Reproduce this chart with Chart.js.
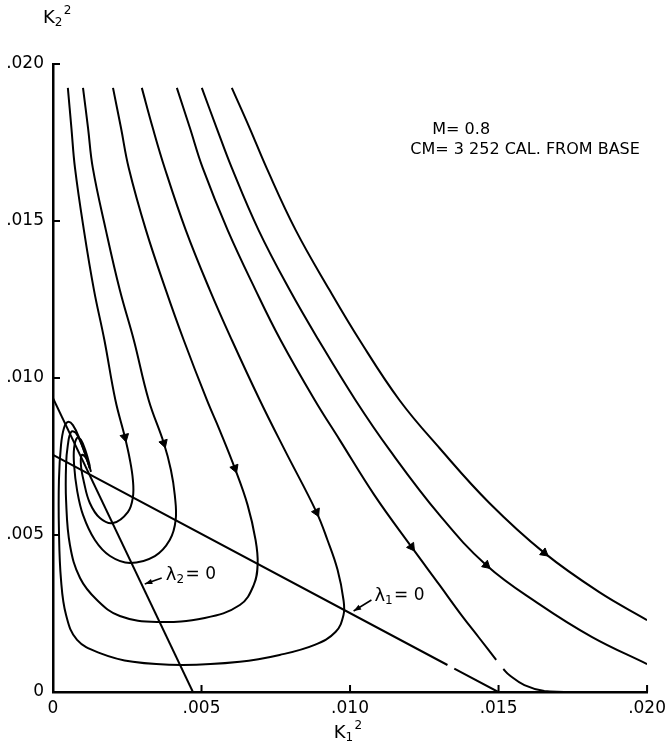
<!DOCTYPE html>
<html>
<head>
<meta charset="utf-8">
<script src="https://cdn.jsdelivr.net/npm/chart.js@4"></script>
<style>
  body { margin: 0; background: #fff; }
</style>
</head>
<body>
<canvas id="chart" width="672" height="750"></canvas>
<script>
// all values in thousandths (0.001) of K1^2 / K2^2
const curveAX = [6.02, 6.62, 7.19, 8.17, 9.31, 10.32, 11.66, 13.01, 14.69, 16.54, 18.39, 20.0];
const curveAY = [19.24, 17.96, 16.69, 14.71, 12.80, 11.21, 9.30, 7.77, 6.02, 4.43, 3.18, 2.29];

const curveBX = [5.01, 5.51, 6.02, 6.92, 7.97, 8.94, 10.18, 11.33, 13.01, 14.59, 16.37, 18.15, 20.0];
const curveBY = [19.24, 17.96, 16.69, 14.71, 12.80, 11.21, 9.30, 7.71, 5.64, 4.04, 2.80, 1.75, 0.89];

// curve C has a small break just above the axis
const curveCX = [4.17, 4.61, 5.04, 5.88, 6.82, 7.66, 8.81, 9.65, 10.82, 12.07, 13.01, 13.75, 14.35, 14.92, 15.04, 15.16, 15.36, 15.87, 16.54, 17.21];
const curveCY = [19.24, 17.96, 16.69, 14.71, 12.80, 11.21, 9.30, 8.03, 6.27, 4.62, 3.41, 2.45, 1.72, 1.02, null, 0.73, 0.54, 0.22, 0.03, 0];

const curveDX = [2.99, 3.36, 3.76, 4.47, 5.28, 6.02, 6.96, 7.80, 8.87, 9.24, 9.58, 9.78, 9.78, 9.51, 8.81, 7.63, 6.29, 4.37, 2.69, 1.58, 0.81, 0.44, 0.27, 0.20, 0.20, 0.27, 0.37, 0.50, 0.67, 0.91, 1.18, 1.28];
const curveDY = [19.24, 17.96, 16.69, 14.71, 12.80, 11.21, 9.30, 7.71, 5.73, 4.84, 3.89, 2.93, 2.45, 1.91, 1.50, 1.18, 0.96, 0.86, 0.96, 1.24, 1.66, 2.45, 3.57, 5.16, 6.75, 7.87, 8.41, 8.60, 8.50, 8.03, 7.32, 7.01];

const curveEX = [2.02, 2.29, 2.55, 3.13, 3.80, 4.40, 5.18, 5.61, 6.12, 6.55, 6.82, 6.89, 6.76, 6.29, 5.11, 3.50, 2.25, 1.48, 0.91, 0.57, 0.44, 0.44, 0.50, 0.61, 0.77, 1.01, 1.24];
const curveEY = [19.24, 17.96, 16.69, 14.71, 12.80, 11.21, 9.30, 8.34, 7.13, 5.96, 4.84, 4.08, 3.41, 2.77, 2.36, 2.23, 2.42, 2.93, 3.63, 4.68, 6.11, 7.23, 7.87, 8.28, 8.25, 7.77, 7.13];

const curveFX = [1.01, 1.18, 1.34, 1.78, 2.25, 2.72, 3.22, 3.73, 3.97, 4.10, 4.13, 3.93, 3.43, 2.59, 1.92, 1.41, 1.01, 0.81, 0.71, 0.71, 0.81, 0.94, 1.11, 1.24];
const curveFY = [19.24, 17.96, 16.69, 14.71, 12.80, 11.21, 9.30, 7.93, 7.07, 6.27, 5.48, 4.84, 4.33, 4.11, 4.33, 4.84, 5.64, 6.43, 7.23, 7.77, 8.09, 8.03, 7.64, 7.20];

const curveGX = [0.50, 0.62, 0.74, 1.04, 1.38, 1.73, 2.10, 2.42, 2.59, 2.69, 2.69, 2.52, 2.02, 1.58, 1.24, 1.04, 0.94, 0.97, 1.11, 1.24];
const curveGY = [19.24, 17.96, 16.69, 14.71, 12.80, 11.21, 9.30, 8.12, 7.39, 6.75, 6.21, 5.73, 5.38, 5.54, 6.02, 6.69, 7.23, 7.55, 7.45, 7.13];

// lambda = 0 lines (lambda1 has a break near the bottom)
const lambda2X = [0, 4.71];
const lambda2Y = [9.36, 0];
const lambda1X = [0, 13.28, 13.4, 13.51, 14.99];
const lambda1Y = [7.55, 0.86, null, 0.745, 0];

// flow arrows, one on each trajectory (A..G)
const arrowX = [16.54, 14.59, 12.07, 8.87, 6.12, 3.73, 2.42];
const arrowY = [4.43, 4.04, 4.62, 5.73, 7.13, 7.93, 8.12];

const xTicks = [0, 5, 10, 15, 20];
const yTicks = [0, 5, 10, 15, 20];

const curves = [
  {x: curveAX, y: curveAY}, {x: curveBX, y: curveBY}, {x: curveCX, y: curveCY},
  {x: curveDX, y: curveDY}, {x: curveEX, y: curveEY}, {x: curveFX, y: curveFY},
  {x: curveGX, y: curveGY}
];

const pts = (xs, ys) => xs.map((x, i) => ({x: x / 1000, y: ys[i] === null ? null : ys[i] / 1000}));
const fmt = v => Math.abs(v) < 1e-9 ? '0' : '.' + String(Math.round(v * 1000)).padStart(3, '0');

const FONT = '"DejaVu Sans", sans-serif';

const line = (xs, ys) => ({
  data: pts(xs, ys),
  showLine: true,
  borderColor: '#000',
  borderWidth: 2,
  pointRadius: 0,
  tension: 0.4,
  spanGaps: false
});

const datasets = curves.map(c => line(c.x, c.y));
datasets.push(Object.assign(line(lambda2X, lambda2Y), {tension: 0}));
datasets.push(Object.assign(line(lambda1X, lambda1Y), {tension: 0}));
datasets.push({
  data: pts(arrowX, arrowY),
  showLine: false,
  pointStyle: 'triangle',
  pointRadius: 5,
  backgroundColor: '#000',
  borderColor: '#000',
  borderWidth: 1,
  rotation: ctx => {
    const i = ctx.dataIndex;
    const c = curves[i];
    if (!c) return 180;
    let j = 0, best = Infinity;
    c.x.forEach((x, k) => {
      if (c.y[k] === null) return;
      const d = (x - arrowX[i]) ** 2 + (c.y[k] - arrowY[i]) ** 2;
      if (d < best) { best = d; j = k; }
    });
    const a = Math.max(j - 1, 0), b = Math.min(j + 1, c.x.length - 1);
    const sx = ctx.chart.scales.x, sy = ctx.chart.scales.y;
    const dx = sx.getPixelForValue(c.x[b] / 1000) - sx.getPixelForValue(c.x[a] / 1000);
    const dy = sy.getPixelForValue(c.y[b] / 1000) - sy.getPixelForValue(c.y[a] / 1000);
    return Math.atan2(dx, -dy) * 180 / Math.PI;
  }
});

// text notes, inward tick marks and the lambda pointer arrows
const annotate = {
  id: 'annotate',
  afterDraw(chart) {
    const {ctx, scales: {x, y}} = chart;
    const px = v => x.getPixelForValue(v / 1000);
    const py = v => y.getPixelForValue(v / 1000);
    ctx.save();
    ctx.fillStyle = '#000';
    ctx.strokeStyle = '#000';
    ctx.lineWidth = 2;

    ctx.beginPath();
    xTicks.forEach(t => {
      if (t === 0) return;
      ctx.moveTo(px(t), y.bottom);
      ctx.lineTo(px(t), y.bottom - 7);
    });
    yTicks.forEach(t => {
      if (t === 0) return;
      ctx.moveTo(x.left, py(t));
      ctx.lineTo(x.left + 7, py(t));
    });
    ctx.stroke();

    ctx.textBaseline = 'middle';
    ctx.textAlign = 'left';
    ctx.font = '16px ' + FONT;
    ctx.fillText('M= 0.8', px(12.77), py(17.90));
    ctx.fillText('CM= 3 252 CAL. FROM BASE', px(12.03), py(17.26));

    // K with subscript and superscript
    const kLabel = (sub, x0, y0) => {
      ctx.textAlign = 'left';
      ctx.font = '18px ' + FONT;
      ctx.fillText('K', x0, y0);
      const w = ctx.measureText('K').width;
      ctx.font = '12px ' + FONT;
      ctx.fillText(sub, x0 + w, y0 + 5);
      ctx.fillText('2', x0 + w + 9, y0 - 7);
    };
    kLabel('2', px(-0.34), py(21.46));
    kLabel('1', px(9.45), py(-1.31));

    // lambda labels with subscript
    const lamLabel = (sub, x0, y0) => {
      ctx.font = '18px ' + FONT;
      ctx.fillText('\u03bb', x0, y0);
      const w = ctx.measureText('\u03bb').width;
      ctx.font = '12px ' + FONT;
      ctx.fillText(sub, x0 + w, y0 + 5);
      ctx.font = '17px ' + FONT;
      ctx.fillText('= 0', x0 + w + 9, y0);
    };
    lamLabel('2', px(3.80), py(3.73));
    lamLabel('1', px(10.82), py(3.06));

    const pointer = (x0, y0, x1, y1) => {
      const ax = px(x0), ay = py(y0), bx = px(x1), by = py(y1);
      const ang = Math.atan2(by - ay, bx - ax);
      ctx.lineWidth = 1.5;
      ctx.beginPath();
      ctx.moveTo(ax, ay);
      ctx.lineTo(bx, by);
      ctx.stroke();
      ctx.beginPath();
      ctx.moveTo(bx, by);
      ctx.lineTo(bx - 8 * Math.cos(ang - 0.35), by - 8 * Math.sin(ang - 0.35));
      ctx.lineTo(bx - 8 * Math.cos(ang + 0.35), by - 8 * Math.sin(ang + 0.35));
      ctx.closePath();
      ctx.fill();
    };
    pointer(3.66, 3.63, 3.09, 3.44);
    pointer(10.72, 2.93, 10.12, 2.58);
    ctx.restore();
  }
};

const axis = (fit) => ({
  type: 'linear',
  min: 0,
  max: 0.02,
  grid: {display: false, drawTicks: false},
  border: {display: true, color: '#000', width: 2.5},
  afterFit: fit,
  ticks: {
    stepSize: 0.005,
    color: '#000',
    font: {family: FONT, size: 17},
    callback: v => fmt(v)
  }
});

const xScale = axis(s => { s.height = 58; });
xScale.ticks.padding = 6;
const yScale = axis(s => { s.width = 53; });
yScale.ticks.padding = 9;

new Chart('chart', {
  type: 'scatter',
  data: {datasets: datasets},
  options: {
    responsive: false,
    animation: false,
    events: [],
    layout: {padding: {left: 0, right: 24, top: 64, bottom: 0}},
    scales: {x: xScale, y: yScale},
    plugins: {legend: {display: false}, tooltip: {enabled: false}}
  },
  plugins: [annotate]
});
</script>
</body>
</html>
